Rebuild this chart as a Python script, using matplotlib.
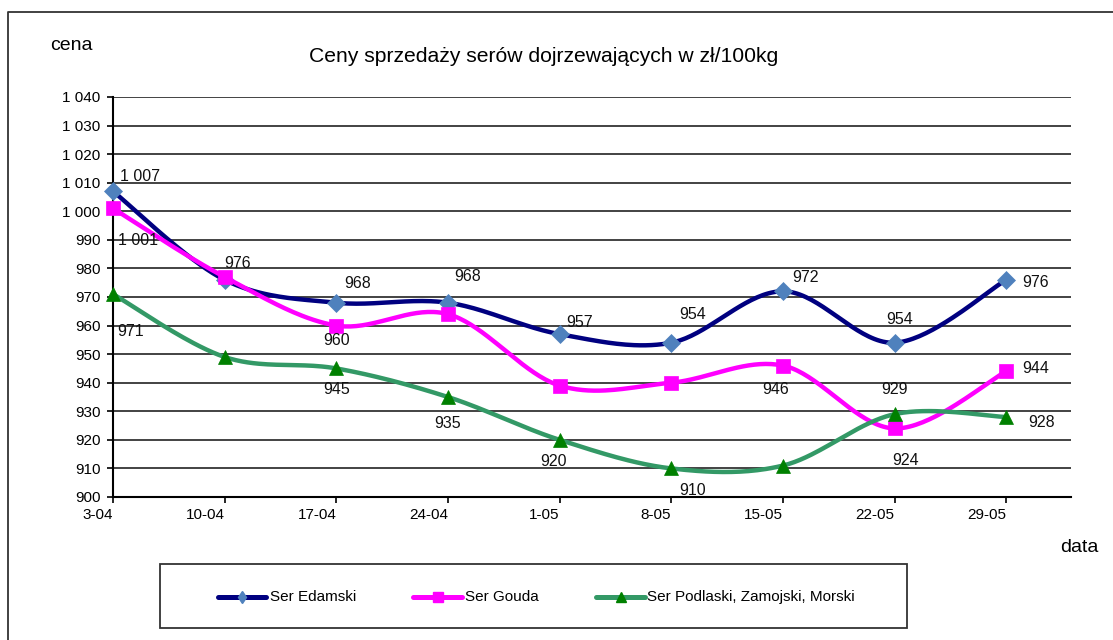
import numpy as np
import matplotlib
matplotlib.use("Agg")
import matplotlib.pyplot as plt
from matplotlib.lines import Line2D
from matplotlib.patches import Rectangle

# ---------------- data ----------------
dates = ["3-04", "10-04", "17-04", "24-04", "1-05", "8-05", "15-05", "22-05", "29-05"]
edamski = [1007, 976, 968, 968, 957, 954, 972, 954, 976]
gouda = [1001, 977, 960, 964, 939, 940, 946, 924, 944]
podlaski = [971, 949, 945, 935, 920, 910, 911, 929, 928]
series_names = ["Ser Edamski", "Ser Gouda", "Ser Podlaski, Zamojski, Morski"]
yticks = list(range(900, 1041, 10))

# which points carry a data label, with pixel offsets of the label centre (style)
ed_lab = [(27, 15), (13, 16), (21, 19), (20, 26), (20, 12), (21, 28), (23, 14), (5, 23), (29, -3)]
go_lab = [(25, -32), None, (0, -15), None, None, None, (-7, -24), (11, -32), (29, 3)]
po_lab = [(18, -37), None, (0, -21), (0, -27), (-6, -22), (21, -22), None, (0, 25), (35, -6)]

W, H = 1113, 640
fig = plt.figure(figsize=(W / 100, H / 100), dpi=100)
fig.patch.set_facecolor("white")

base = "Liberation Sans"

ax = fig.add_axes([113 / W, 1 - 497 / H, (1071 - 113) / W, (497 - 97) / H])
ax.set_xlim(0, 8.58)
ax.set_ylim(900, 1040)

def fmt(v):
    s = f"{int(v):,}".replace(",", " ")
    return s

ax.set_yticks(yticks)
ax.set_yticklabels([fmt(v) for v in yticks], fontfamily=base, fontsize=11)
ax.set_xticks(range(len(dates)))
ax.set_xticklabels(dates, fontfamily=base, fontsize=11, ha="right")
ax.tick_params(axis="y", length=4, width=1.2, pad=5, color="black")
ax.tick_params(axis="x", length=4, width=1.2, pad=4, color="black")

for v in yticks[1:]:
    ax.axhline(v, color="#222222", lw=1.2, zorder=1)
for s in ["top", "right"]:
    ax.spines[s].set_visible(False)
ax.spines["left"].set_linewidth(1.5)
ax.spines["bottom"].set_linewidth(1.5)


def smooth(xs, ys, n=40):
    P = np.column_stack([xs, ys]).astype(float)
    Pe = np.vstack([P[0], P, P[-1]])
    out = []
    for i in range(len(P) - 1):
        p0, p1, p2, p3 = Pe[i], Pe[i + 1], Pe[i + 2], Pe[i + 3]
        c1 = p1 + (p2 - p0) / 6.0
        c2 = p2 - (p3 - p1) / 6.0
        t = np.linspace(0, 1, n)[:, None]
        seg = ((1 - t) ** 3) * p1 + 3 * ((1 - t) ** 2) * t * c1 + 3 * (1 - t) * t ** 2 * c2 + t ** 3 * p2
        out.append(seg if i == 0 else seg[1:])
    S = np.vstack(out)
    return S[:, 0], S[:, 1]


x = np.arange(len(dates))
specs = [
    (edamski, "#000080", "D", "#4F81BD", 9.5, ed_lab),
    (gouda, "#FF00FF", "s", "#FF00FF", 10, go_lab),
    (podlaski, "#339966", "^", "#008000", 9.5, po_lab),
]
z = 3
for vals, lc, mk, mc, ms, labs in specs:
    sx, sy = smooth(x, vals)
    ax.plot(sx, sy, color=lc, lw=3.2, solid_capstyle="round", zorder=z)
    ax.plot(x, vals, ls="none", marker=mk, markersize=ms, markerfacecolor=mc,
            markeredgecolor=mc, markeredgewidth=0.5, zorder=z + 1, clip_on=False)
    for xi, v, off in zip(x, vals, labs):
        if off is None:
            continue
        ax.annotate(fmt(v), (xi, v), xytext=off, textcoords="offset pixels",
                    ha="center", va="center", fontsize=11.5, fontfamily=base,
                    color="#111111", zorder=10, annotation_clip=False)
    z += 2

# texts
fig.text(544 / W, 1 - 56 / H, "Ceny sprzedaży serów dojrzewających w zł/100kg",
         ha="center", va="center", fontsize=15.2, fontfamily=base)
fig.text(71 / W, 1 - 45 / H, "cena", ha="center", va="center", fontsize=14, fontfamily=base)
fig.text(1079 / W, 1 - 548 / H, "data", ha="center", va="center", fontsize=14, fontfamily=base)

# outer frame
fig.add_artist(Line2D([8 / W, 8 / W, 1], [0, 1 - 12 / H, 1 - 12 / H], transform=fig.transFigure,
                      color="#333333", lw=1.3))

# legend box
fig.add_artist(Rectangle((160 / W, 1 - 628 / H), (907 - 160) / W, (628 - 564) / H,
                         transform=fig.transFigure, facecolor="white", edgecolor="#333333", lw=1.3))
leg_items = [
    (218, 266, 270, "#000080", "d", "#4F81BD", 6),
    (413, 462, 465, "#FF00FF", "s", "#FF00FF", 7),
    (596, 645, 647, "#339966", "^", "#008000", 7),
]
ly = 1 - 597 / H
for (x0, x1, tx, lc, mk, mc, ms), name in zip(leg_items, series_names):
    fig.add_artist(Line2D([x0 / W, x1 / W], [ly, ly], transform=fig.transFigure,
                          color=lc, lw=3.6, solid_capstyle="round"))
    fig.add_artist(Line2D([(x0 + x1) / 2 / W], [ly], transform=fig.transFigure, ls="none",
                          marker=mk, markersize=ms, markerfacecolor=mc, markeredgecolor=mc))
    fig.text(tx / W, ly, name, ha="left", va="center", fontsize=11, fontfamily=base)

fig.savefig("out.png", dpi=100, facecolor="white")
